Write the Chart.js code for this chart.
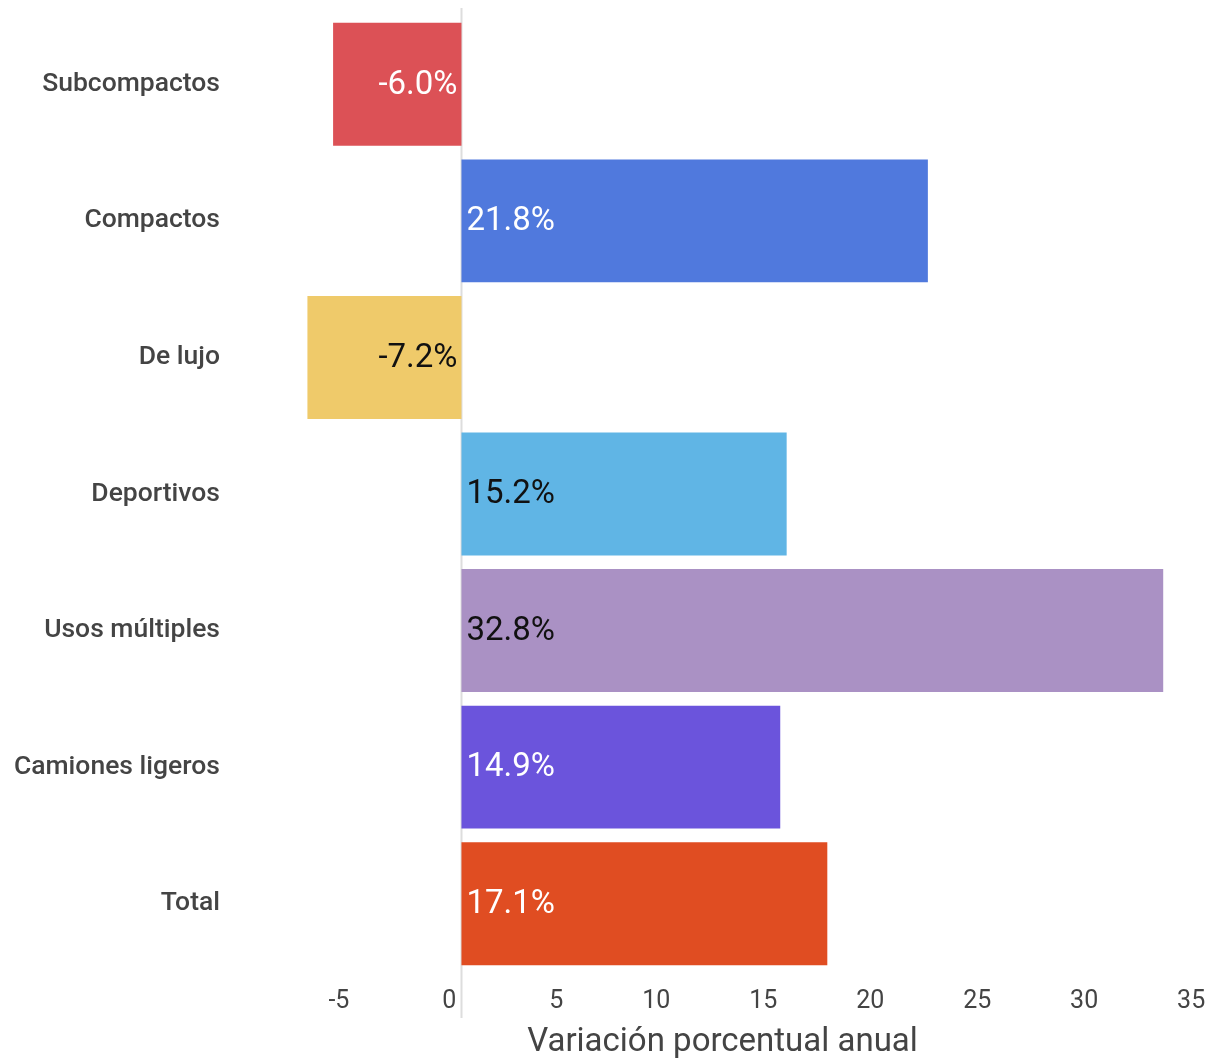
<!DOCTYPE html>
<html>
<head>
<meta charset="utf-8">
<script src="https://cdn.jsdelivr.net/npm/chart.js@4.4.0/dist/chart.umd.min.js"></script>
<style>
  html, body { margin: 0; padding: 0; background: #fff; }
  #wrap { width: 1206px; height: 1060px; }
</style>
</head>
<body>
<div id="wrap"><canvas id="chart" width="1206" height="1060"></canvas></div>
<script>
const categories = ["Subcompactos", "Compactos", "De lujo", "Deportivos", "Usos múltiples", "Camiones ligeros", "Total"];
const values = [-6.0, 21.8, -7.2, 15.2, 32.8, 14.9, 17.1];
const barColors = ["#dc5156", "#5079dd", "#efca6a", "#60b5e5", "#aa91c4", "#6b54dc", "#e04d22"];
const labelColors = ["#ffffff", "#ffffff", "#111111", "#111111", "#111111", "#ffffff", "#ffffff"];
const xTicks = [-5, 0, 5, 10, 15, 20, 25, 30, 35];
const axisTitle = "Variación porcentual anual";

const FONT = "Roboto, 'Noto Sans', sans-serif";

// zero line that runs a bit past the plot area, like the original
const zeroLine = {
  id: "zeroLine",
  beforeDatasetsDraw(chart) {
    const { ctx, chartArea, scales } = chart;
    const x = Math.round(scales.x.getPixelForValue(0)) + 0.5;
    ctx.save();
    ctx.strokeStyle = "#dddddd";
    ctx.lineWidth = 2;
    ctx.beginPath();
    ctx.moveTo(x, chartArea.top - 8);
    ctx.lineTo(x, chartArea.bottom + 46);
    ctx.stroke();
    ctx.restore();
  }
};

// value labels sitting against the zero line, inside the bar
const valueLabels = {
  id: "valueLabels",
  afterDatasetsDraw(chart) {
    const { ctx, scales } = chart;
    const zero = scales.x.getPixelForValue(0);
    const meta = chart.getDatasetMeta(0);
    ctx.save();
    ctx.font = "33px " + FONT;
    ctx.textBaseline = "middle";
    meta.data.forEach((bar, i) => {
      const v = values[i];
      ctx.fillStyle = labelColors[i];
      const txt = v.toFixed(1) + "%";
      if (v < 0) {
        ctx.textAlign = "right";
        ctx.fillText(txt, zero - 4, bar.y + 1);
      } else {
        ctx.textAlign = "left";
        ctx.fillText(txt, zero + 5, bar.y + 1);
      }
    });
    ctx.restore();
  }
};

// axis title, placed a little left of the plot centre
const xTitle = {
  id: "xTitle",
  afterDraw(chart) {
    const { ctx, chartArea } = chart;
    ctx.save();
    ctx.font = "33px " + FONT;
    ctx.fillStyle = "#444444";
    ctx.textAlign = "center";
    ctx.textBaseline = "middle";
    ctx.fillText(axisTitle, (chartArea.left + chartArea.right) / 2 - 31, chartArea.bottom + 71);
    ctx.restore();
  }
};

new Chart(document.getElementById("chart"), {
  type: "bar",
  data: {
    labels: categories,
    datasets: [{
      data: values,
      backgroundColor: barColors,
      borderWidth: 0,
      barPercentage: 0.9,
      categoryPercentage: 1.0
    }]
  },
  options: {
    indexAxis: "y",
    responsive: false,
    animation: false,
    layout: { padding: { top: 16, right: 0, bottom: 0, left: 0 } },
    plugins: { legend: { display: false }, tooltip: { enabled: false } },
    scales: {
      x: {
        min: -7.5,
        max: 34.8,
        afterBuildTicks: (scale) => { scale.ticks = xTicks.map(v => ({ value: v })); },
        afterFit: (scale) => {
          scale.height = 88;
          scale.paddingLeft = 0;
          scale.paddingRight = 0;
        },
        grid: { display: false, drawTicks: false },
        border: { display: false },
        ticks: {
          align: "end",
          padding: 15,
          color: "#444444",
          font: { family: FONT, size: 25 },
          callback: (v) => v + "\u2009"
        }
      },
      y: {
        afterFit: (scale) => {
          scale.width = 301;
          scale.paddingTop = 0;
          scale.paddingBottom = 0;
        },
        grid: { display: false, drawTicks: false },
        border: { display: false },
        ticks: {
          padding: 81,
          color: "#444444",
          font: { family: FONT, size: 26.5, weight: "500" }
        }
      }
    }
  },
  plugins: [zeroLine, valueLabels, xTitle]
});
</script>
</body>
</html>
